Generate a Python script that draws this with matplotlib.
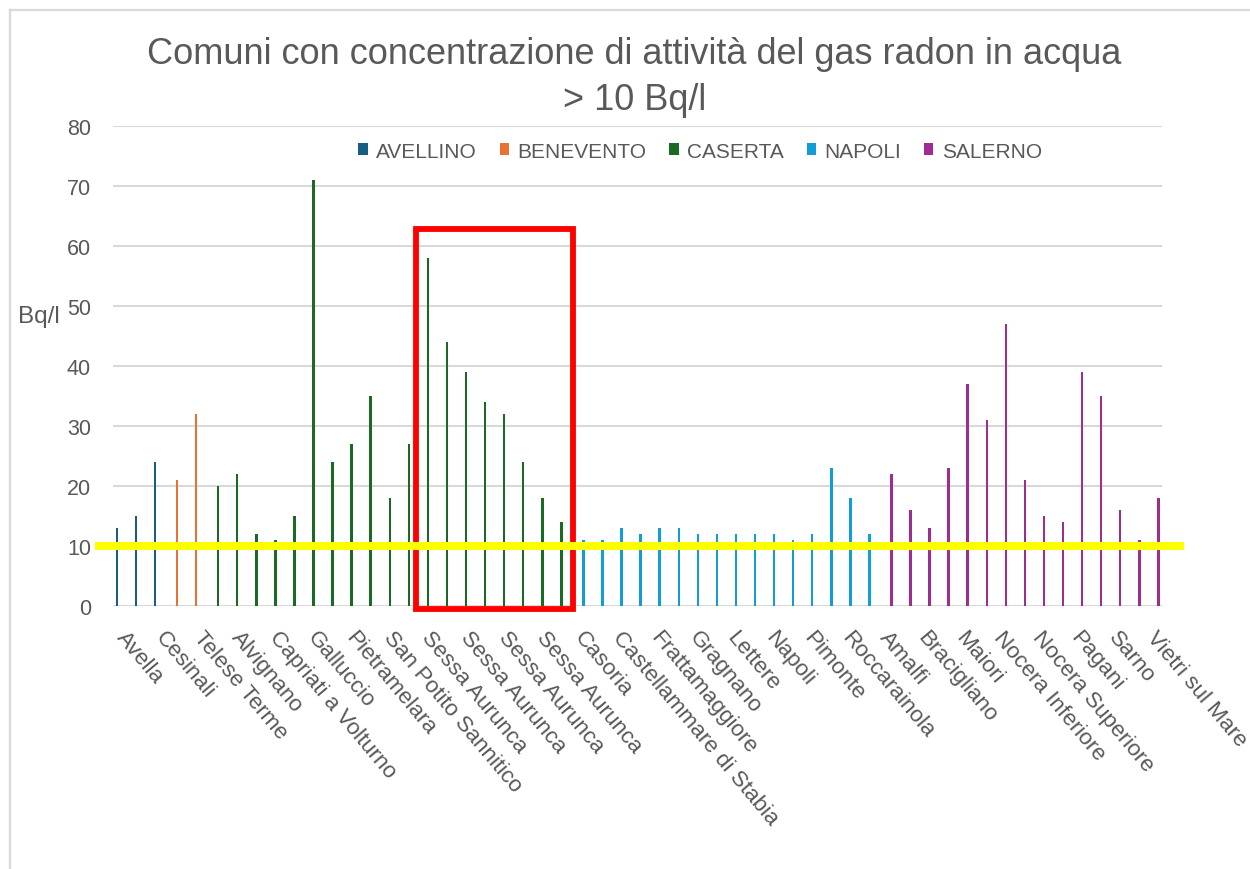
import matplotlib
matplotlib.use("Agg")
import matplotlib.pyplot as plt
from matplotlib.patches import Rectangle
from matplotlib.lines import Line2D
from matplotlib.transforms import blended_transform_factory

plt.rcParams['font.family'] = ['Liberation Sans', 'DejaVu Sans']

# ---- data -------------------------------------------------------------
provinces = ["AVELLINO", "BENEVENTO", "CASERTA", "NAPOLI", "SALERNO"]
colors = ["#156082", "#E97132", "#196B24", "#0F9ED5", "#A02B93"]

# category names (only every other one is labelled in the reference; "" = not readable)
avellino_names = ["Avella", "", "Cesinali"]
benevento_names = ["", "Telese Terme"]
caserta_names = ["", "Alvignano", "", "Capriati a Volturno", "", "Galluccio", "",
                 "Pietramelara", "", "San Potito Sannitico", "", "Sessa Aurunca", "",
                 "Sessa Aurunca", "", "Sessa Aurunca", "", "Sessa Aurunca", ""]
napoli_names = ["Casoria", "", "Castellammare di Stabia", "", "Frattamaggiore", "",
                "Gragnano", "", "Lettere", "", "Napoli", "", "Pimonte", "",
                "Roccarainola", ""]
salerno_names = ["Amalfi", "", "Bracigliano", "", "Maiori", "", "Nocera Inferiore", "",
                 "Nocera Superiore", "", "Pagani", "", "Sarno", "", "Vietri sul Mare"]

avellino_vals = [13, 15, 24]
benevento_vals = [21, 32]
caserta_vals = [20, 22, 12, 11, 15, 71, 24, 27, 35, 18, 27, 58, 44, 39, 34, 32, 24, 18, 14]
napoli_vals = [11, 11, 13, 12, 13, 13, 12, 12, 12, 12, 12, 11, 12, 23, 18, 12]
salerno_vals = [22, 16, 13, 23, 37, 31, 47, 21, 15, 14, 39, 35, 16, 11, 18]

threshold = 10
title_lines = ["Comuni con concentrazione di attività del gas radon in acqua", "> 10 Bq/l"]
y_label = "Bq/l"

# ---- figure -----------------------------------------------------------
W, H = 1250, 870
fig = plt.figure(figsize=(W / 100, H / 100), dpi=100)
ax = fig.add_axes([113.3 / W, 1 - 606.7 / H, (1162 - 113.3) / W, (606.7 - 127) / H])

names_by_prov = [avellino_names, benevento_names, caserta_names, napoli_names, salerno_names]
vals_by_prov = [avellino_vals, benevento_vals, caserta_vals, napoli_vals, salerno_vals]

all_names = []
start = 0
n_series = len(provinces)
bar_w = 0.13
step = 0.155
for k, (names, vals, col, prov) in enumerate(zip(names_by_prov, vals_by_prov, colors, provinces)):
    xs = [start + i + (k - (n_series - 1) / 2) * step for i in range(len(vals))]
    ax.bar(xs, vals, width=bar_w, color=col, label=prov, zorder=2)
    all_names.extend(names)
    start += len(vals)

n = len(all_names)
ax.set_xlim(-0.5, n - 0.5)
ax.set_ylim(0, 80)
ax.set_yticks(range(0, 81, 10))
ax.set_xticks([i + 0.3 for i in range(n)])
ax.set_xticklabels(all_names, rotation=-50, rotation_mode="anchor", ha="left", va="top",
                   fontsize=16.2, color="#595959")
ax.tick_params(axis="x", length=0, pad=15)
ax.tick_params(axis="y", length=0, pad=16, labelsize=15.5, labelcolor="#595959")
for s in ax.spines.values():
    s.set_visible(False)
ax.yaxis.grid(True, color="#D9D9D9", lw=1.5)
ax.set_axisbelow(True)

# legend
ax.legend(loc="center", bbox_to_anchor=(700 / W, 1 - 152 / H), bbox_transform=fig.transFigure,
          ncol=5, frameon=False, fontsize=15, handlelength=0.45, handleheight=0.45,
          handletextpad=0.4, columnspacing=1.1, labelcolor="#595959")

# title (two lines) & axis label
fig.text(634.5 / W, 1 - 55 / H, title_lines[0], ha="center", va="center", fontsize=26,
         color="#595959")
fig.text(634.5 / W, 1 - 101 / H, title_lines[1], ha="center", va="center", fontsize=26,
         color="#595959")
fig.text(18 / W, 1 - 317 / H, y_label, ha="left", va="center", fontsize=17.5, color="#595959")

# yellow threshold line (extends beyond the plot area)
tr = blended_transform_factory(fig.transFigure, ax.transData)
fig.add_artist(Line2D([99 / W, 1180 / W], [threshold, threshold], transform=tr,
                      color="#FFFF00", lw=5.8, zorder=5))

# red highlight box around the Sessa Aurunca bars
ax.add_patch(Rectangle((15.39, -0.63), 23.60 - 15.39, 62.77 + 0.63, fill=False,
                       edgecolor="#FF0000", lw=4.2, clip_on=False, zorder=6))

# chart-area border (top and left visible)
fig.add_artist(Line2D([9.5 / W, 9.5 / W], [0, 1 - 11 / H], transform=fig.transFigure,
                      color="#D9D9D9", lw=1.6))
fig.add_artist(Line2D([9.5 / W, 1], [1 - 11 / H, 1 - 11 / H], transform=fig.transFigure,
                      color="#D9D9D9", lw=1.6))

fig.savefig("out.png", dpi=100)
